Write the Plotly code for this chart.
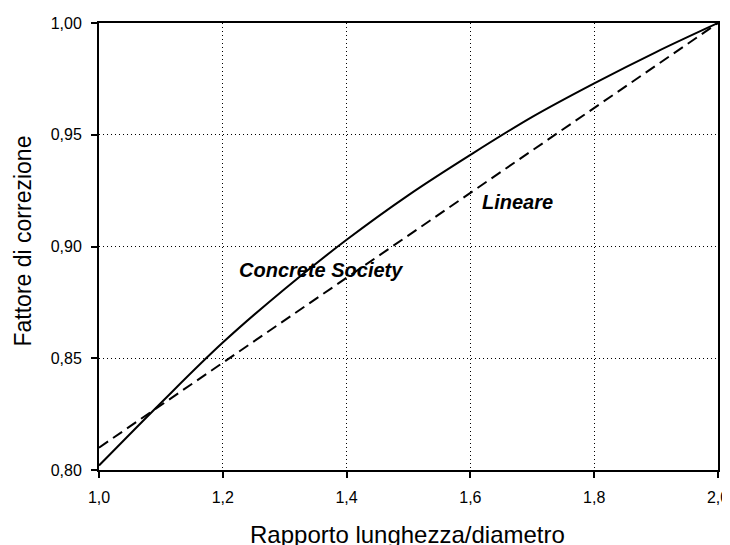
import plotly.graph_objects as go

ratio = [1.0, 1.1, 1.2, 1.3, 1.4, 1.5, 1.6, 1.7, 1.8, 1.9, 2.0]
concrete_society = [0.802, 0.830, 0.857, 0.881, 0.903, 0.923, 0.941, 0.958, 0.973, 0.987, 1.0]
linear_x = [1.0, 2.0]
linear_y = [0.81, 1.0]

x_ticks = [1.0, 1.2, 1.4, 1.6, 1.8, 2.0]
x_ticktext = ["1,0", "1,2", "1,4", "1,6", "1,8", "2,0"]
y_ticks = [0.80, 0.85, 0.90, 0.95, 1.00]
y_ticktext = ["0,80", "0,85", "0,90", "0,95", "1,00"]

FONT = "Liberation Sans, Arial, sans-serif"

# the page body adds an 8px offset; figure geometry compensates for it
W, H = 722, 537
ML, MT, MR, MB = 91, 15, 12, 75
PW = W - ML - MR
PH = H - MT - MB

fig = go.Figure()
fig.add_trace(go.Scatter(x=ratio, y=concrete_society, mode="lines",
                         line=dict(color="black", width=2, shape="spline"),
                         name="Concrete Society", showlegend=False))
fig.add_trace(go.Scatter(x=linear_x, y=linear_y, mode="lines",
                         line=dict(color="black", width=2, dash="11px,6px"),
                         name="Lineare", showlegend=False))

fig.add_annotation(x=1.2226, y=0.8895, text="<b><i>Concrete Society</i></b>",
                   showarrow=False, xanchor="left", yanchor="middle",
                   font=dict(family=FONT, size=20, color="black"))
fig.add_annotation(x=1.616, y=0.920, text="<b><i>Lineare</i></b>",
                   showarrow=False, xanchor="left", yanchor="middle",
                   font=dict(family=FONT, size=20, color="black"))

# axis titles (positions in figure pixels)
fig.add_annotation(xref="paper", yref="paper", x=0.5, y=0, text="Rapporto lunghezza/diametro",
                   showarrow=False, xanchor="center", yanchor="middle",
                   xshift=399.5 - (ML + PW / 2), yshift=-(526 - (MT + PH)),
                   font=dict(family=FONT, size=24, color="black"))
fig.add_annotation(xref="paper", yref="paper", x=0, y=0.5, text="Fattore di correzione",
                   showarrow=False, xanchor="center", yanchor="middle", textangle=-90,
                   xshift=-(ML - 14.5), yshift=(MT + PH / 2) - 233,
                   font=dict(family=FONT, size=23, color="black"))

axis_common = dict(showline=True, linecolor="black", linewidth=2, mirror=True,
                   showgrid=True, gridcolor="black", gridwidth=1, griddash="1px,3px",
                   ticks="outside", ticklen=6, tickcolor="black", tickwidth=1.5,
                   zeroline=False, automargin=False,
                   tickfont=dict(family=FONT, size=16, color="black"))

fig.update_xaxes(range=[1.0, 2.0], tickvals=x_ticks, ticktext=x_ticktext,
                 ticklabelstandoff=6, **axis_common)
fig.update_yaxes(range=[0.80, 1.00], tickvals=y_ticks, ticktext=y_ticktext,
                 ticklabelstandoff=6, **axis_common)

fig.update_layout(width=W, height=H,
                  margin=dict(l=ML, r=MR, t=MT, b=MB),
                  plot_bgcolor="white", paper_bgcolor="white",
                  font=dict(family=FONT, color="black"))

fig.write_html("out.html")
